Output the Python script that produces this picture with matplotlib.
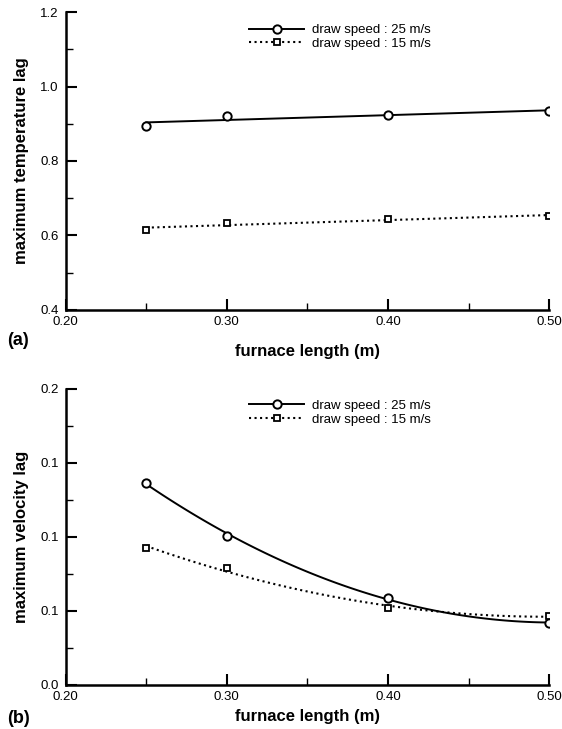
import numpy as np
import matplotlib
matplotlib.use("Agg")
import matplotlib.pyplot as plt
from matplotlib.ticker import MultipleLocator, FormatStrFormatter

plt.rcParams['font.family'] = ['Liberation Sans', 'DejaVu Sans']

# furnace length (m)
length = [0.25, 0.30, 0.40, 0.50]

# (a) maximum temperature lag
temp_25 = [0.895, 0.921, 0.923, 0.934]
temp_15 = [0.615, 0.634, 0.644, 0.652]
temp_ticks = [0.4, 0.6, 0.8, 1.0, 1.2]
temp_ticklabels = ["0.4", "0.6", "0.8", "1.0", "1.2"]

# (b) maximum velocity lag
vel_25 = [0.1365, 0.1009, 0.0588, 0.0419]
vel_15 = [0.0926, 0.0790, 0.0520, 0.0466]
vel_ticks = [0.0, 0.05, 0.10, 0.15, 0.20]
vel_ticklabels = ["0.0", "0.1", "0.1", "0.1", "0.2"]  # as printed in the original

labels = ["draw speed : 25 m/s", "draw speed : 15 m/s"]


def fit_curve(x, y, deg):
    # smooth fitted curve through the points, like in the original figure
    c = np.polyfit(x, y, deg)
    xs = np.linspace(min(x), max(x), 100)
    return xs, np.polyval(c, xs)


def style_axes(ax, yticks, yticklabels, xlabelpad):
    ax.set_xlim(0.20, 0.50)
    ax.set_ylim(yticks[0], yticks[-1])
    ax.xaxis.set_major_locator(MultipleLocator(0.10))
    ax.xaxis.set_minor_locator(MultipleLocator(0.05))
    ax.xaxis.set_major_formatter(FormatStrFormatter('%.2f'))
    ax.set_yticks(yticks)
    ax.set_yticklabels(yticklabels)
    step = yticks[1] - yticks[0]
    ax.yaxis.set_minor_locator(MultipleLocator(step / 2))
    for s in ['top', 'right']:
        ax.spines[s].set_visible(False)
    for s in ['left', 'bottom']:
        ax.spines[s].set_linewidth(1.8)
    ax.tick_params(which='both', direction='in', labelsize=9.5)
    ax.tick_params(which='major', length=8, width=1.5)
    ax.tick_params(which='minor', length=5, width=1.0)
    ax.tick_params(axis='x', pad=4)
    ax.tick_params(axis='y', pad=5)
    ax.set_xlabel("furnace length (m)", fontsize=12, fontweight='bold',
                  labelpad=xlabelpad)


def draw(ax, y25, y15, deg):
    xs, ys = fit_curve(length, y25, deg)
    ax.plot(xs, ys, color='black', lw=1.4)
    ax.plot(length, y25, 'o', mfc='white', mec='black', ms=6, mew=1.4)
    xs, ys = fit_curve(length, y15, deg)
    ax.plot(xs, ys, color='black', lw=1.5, ls=':')
    ax.plot(length, y15, 's', mfc='white', mec='black', ms=4.5, mew=1.3)
    h1, = ax.plot([], [], '-o', color='black', lw=1.4, mfc='white', ms=6, mew=1.4)
    h2, = ax.plot([], [], ':s', color='black', lw=1.5, mfc='white', ms=4.5, mew=1.3)
    return h1, h2


fig = plt.figure(figsize=(5.62, 7.29), dpi=100)
ax1 = fig.add_axes([0.117, 0.5748, 0.86, 0.4087])
ax2 = fig.add_axes([0.117, 0.0604, 0.86, 0.406])

h = draw(ax1, temp_25, temp_15, 1)
style_axes(ax1, temp_ticks, temp_ticklabels, 12)
ax1.set_ylabel("maximum temperature lag", fontsize=12, fontweight='bold', labelpad=8)
ax1.legend(h, labels, frameon=False, fontsize=9.5, handlelength=4.2,
           loc='upper left', bbox_to_anchor=(0.36, 0.99), labelspacing=0.1,
           handletextpad=0.6, borderpad=0.2)
fig.text(0.012, 0.527, "(a)", fontsize=13, fontweight='bold')

h = draw(ax2, vel_25, vel_15, 2)
style_axes(ax2, vel_ticks, vel_ticklabels, 5)
ax2.set_ylabel("maximum velocity lag", fontsize=12, fontweight='bold', labelpad=8)
ax2.legend(h, labels, frameon=False, fontsize=9.5, handlelength=4.2,
           loc='upper left', bbox_to_anchor=(0.36, 0.995), labelspacing=0.1,
           handletextpad=0.6, borderpad=0.2)
fig.text(0.012, 0.008, "(b)", fontsize=13, fontweight='bold')

fig.savefig("out.png", dpi=100)
